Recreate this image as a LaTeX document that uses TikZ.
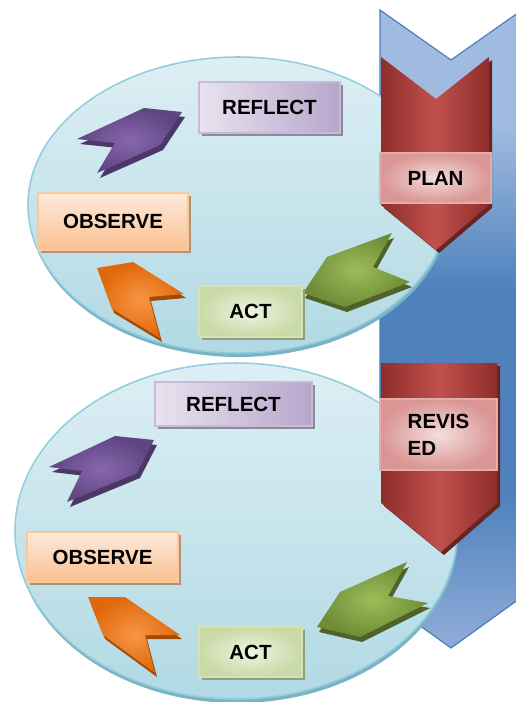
\documentclass[tikz,border=0pt]{standalone}
\usepackage{fontspec}
\setmainfont{Liberation Sans}
\usepackage{tikz}
\usepackage{tkz-euclide}
\usetikzlibrary{shadows}

\definecolor{bandblue}{HTML}{4F81BD}
\definecolor{bandlight}{HTML}{A0BBDF}
\definecolor{bandlow}{HTML}{90ADD8}
\definecolor{bandline}{HTML}{4A7EBB}
\definecolor{chevred}{HTML}{C0504D}
\definecolor{chevdark}{HTML}{8E2E2B}
\definecolor{chevshadow}{HTML}{652523}
\definecolor{cyclelight}{HTML}{DDEFF4}
\definecolor{cycledark}{HTML}{B1D9E4}
\definecolor{cycleline}{HTML}{93CDDD}
\definecolor{cycleshadow}{HTML}{7AB3C4}
\definecolor{reflectlight}{HTML}{E8E3EF}
\definecolor{reflectdark}{HTML}{B7A6CB}
\definecolor{reflectline}{HTML}{C8BBD9}
\definecolor{reflectshadow}{HTML}{8E8A9C}
\definecolor{observelight}{HTML}{FDEADB}
\definecolor{observedark}{HTML}{FAC090}
\definecolor{observeline}{HTML}{FBC79C}
\definecolor{observeshadow}{HTML}{B09274}
\definecolor{actlight}{HTML}{EEF3E3}
\definecolor{actdark}{HTML}{C9DAA6}
\definecolor{actline}{HTML}{D4E3B7}
\definecolor{actshadow}{HTML}{8FA07E}
\definecolor{planlight}{HTML}{F3DEDD}
\definecolor{plandark}{HTML}{D99694}
\definecolor{planline}{HTML}{E3ADAB}
\definecolor{purplemid}{HTML}{8767AD}
\definecolor{purpleedge}{HTML}{5F4682}
\definecolor{purpleshadow}{HTML}{4B3868}
\definecolor{orangemid}{HTML}{F79646}
\definecolor{orangeedge}{HTML}{E0680A}
\definecolor{orangeshadow}{HTML}{A04C08}
\definecolor{greenmid}{HTML}{9DBD5A}
\definecolor{greenedge}{HTML}{6F8C35}
\definecolor{greenshadow}{HTML}{4F6228}

\pgfdeclareverticalshading{bandshade}{100bp}{color(0bp)=(bandlow); color(25bp)=(bandlow);
  color(37bp)=(bandblue); color(53bp)=(bandblue); color(66bp)=(bandlight); color(100bp)=(bandlight)}

\tikzset{
  cyclebg/.style={draw=cycleline, line width=1.3pt, top color=cyclelight, bottom color=cycledark,
    general shadow={fill=cycleshadow, shadow xshift=0.03cm, shadow yshift=-0.12cm}},
  boxbase/.style={rectangle, line width=1pt, font=\bfseries\fontsize{17.5}{23}\selectfont, inner sep=0pt},
  reflectbox/.style={boxbase, draw=reflectline, left color=reflectlight, right color=reflectdark,
    general shadow={fill=reflectshadow, shadow xshift=0.09cm, shadow yshift=-0.09cm}},
  observebox/.style={boxbase, draw=observeline, top color=observelight, bottom color=observedark,
    general shadow={fill=observeshadow, shadow xshift=0.09cm, shadow yshift=-0.09cm}},
  actbox/.style={boxbase, draw=actline, inner color=actlight, outer color=actdark,
    general shadow={fill=actshadow, shadow xshift=0.09cm, shadow yshift=-0.09cm}},
  planbox/.style={boxbase, draw=planline, inner color=planlight, outer color=plandark},
  purplearrow/.style={inner color=purplemid, outer color=purpleedge},
  orangearrow/.style={inner color=orangemid, outer color=orangeedge},
  greenarrow/.style={inner color=greenmid, outer color=greenedge}
}

\begin{document}
\begin{tikzpicture}[x=0.03cm, y=-0.03cm]
  \useasboundingbox (0,0) rectangle (516,702);
  \tkzDefPoints{380/10/B1, 451/60/B2, 522/10/B3, 522/597/B4, 451/648/B5, 380/597/B6}
  \tkzDefPoints{381/57/P1, 436/99/P2, 489/57/P3, 489/205/P4, 436/250/P5, 381/205/P6}
  \tkzDefPoints{381/363/R1, 497/363/R2, 497/503/R3, 441/552/R4, 381/503/R5}

  % big arrow behind
  \draw[bandline, line width=1pt, shading=bandshade]
    (B1)--(B2)--(B3)--(B4)--(B5)--(B6)--cycle;

  % the two cycles
  \path[cyclebg] (238,205) ellipse [x radius=6.3cm, y radius=4.44cm];
  \path[cyclebg] (236,531) ellipse [x radius=6.63cm, y radius=5.04cm];

  % red chevrons
  \begin{scope}[transform canvas={xshift=0.09cm, yshift=-0.09cm}]
    \fill[chevshadow] (P1)--(P2)--(P3)--(P4)--(P5)--(P6)--cycle;
    \fill[chevshadow] (R1)--(R2)--(R3)--(R4)--(R5)--cycle;
  \end{scope}
  \shade[left color=chevdark, right color=chevdark, middle color=chevred]
    (P1)--(P2)--(P3)--(P4)--(P5)--(P6)--cycle;
  \shade[left color=chevdark, right color=chevdark, middle color=chevred]
    (R1)--(R2)--(R3)--(R4)--(R5)--cycle;

  % cycle arrows
  \fill[purpleshadow, shift={(3,5)}] (77,139)--(144,108)--(182,112)--(160,145)--(97,173)--(115,143)--cycle;
  \shade[purplearrow] (77,139)--(144,108)--(182,112)--(160,145)--(97,173)--(115,143)--cycle;
  \fill[orangeshadow, shift={(2,4)}] (97,268)--(133,262)--(184,294)--(149,297)--(160,338)--(112,309)--cycle;
  \shade[orangearrow] (97,268)--(133,262)--(184,294)--(149,297)--(160,338)--(112,309)--cycle;
  \fill[greenshadow, shift={(2,5)}] (303,293)--(327,257)--(392,233)--(373,267)--(410,282)--(345,307)--cycle;
  \shade[greenarrow] (303,293)--(327,257)--(392,233)--(373,267)--(410,282)--(345,307)--cycle;

  \fill[purpleshadow, shift={(3,5)}] (49,467)--(115,436)--(154,440)--(137,473)--(67,502)--(82,471)--cycle;
  \shade[purplearrow] (49,467)--(115,436)--(154,440)--(137,473)--(67,502)--(82,471)--cycle;
  \fill[orangeshadow, shift={(2,4)}] (88,597)--(125,597)--(180,635)--(145,635)--(155,673)--(103,635)--cycle;
  \shade[orangearrow] (88,597)--(125,597)--(180,635)--(145,635)--(155,673)--(103,635)--cycle;
  \fill[greenshadow, shift={(2,5)}] (317,627)--(340,592)--(407,562)--(388,596)--(428,603)--(360,637)--cycle;
  \shade[greenarrow] (317,627)--(340,592)--(407,562)--(388,596)--(428,603)--(360,637)--cycle;

  % labels
  \node[reflectbox, minimum width=4.23cm, minimum height=1.53cm] (reflectA) at (269.5,107.5) {REFLECT};
  \node[observebox, minimum width=4.5cm, minimum height=1.71cm] (observeA) at (113,221.5) {OBSERVE};
  \node[actbox, minimum width=3.09cm, minimum height=1.53cm] (actA) at (250.5,311.5) {ACT};
  \node[planbox, minimum width=3.33cm, minimum height=1.5cm] (plan) at (435.5,178) {PLAN};

  \node[reflectbox, minimum width=4.71cm, minimum height=1.32cm] (reflectB) at (233.5,404) {REFLECT};
  \node[observebox, minimum width=4.53cm, minimum height=1.5cm] (observeB) at (102.5,557) {OBSERVE};
  \node[actbox, minimum width=3.09cm, minimum height=1.5cm] (actB) at (250.5,652) {ACT};
  \node[planbox, minimum width=3.51cm, minimum height=2.13cm, align=left] (revised) at (438.5,434.5) {REVIS\\ED};
\end{tikzpicture}
\end{document}
